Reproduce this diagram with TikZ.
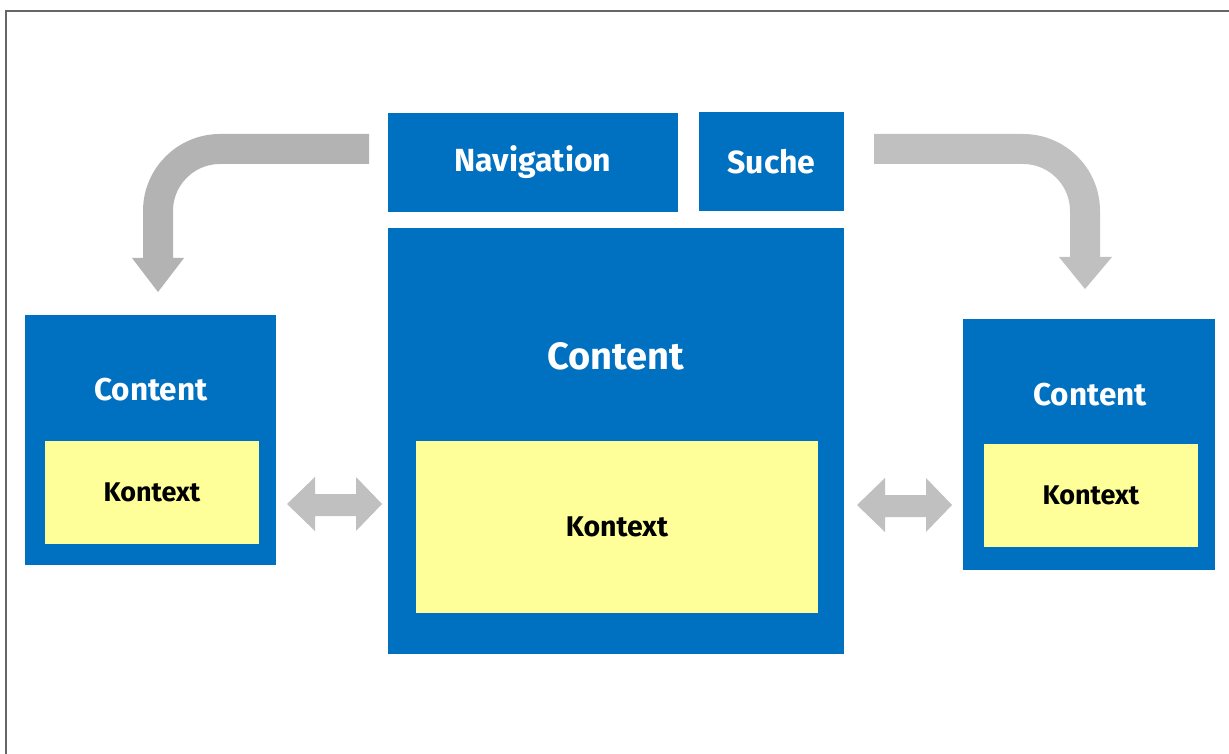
\documentclass[tikz,border=0pt]{standalone}
\usepackage{fontspec}
\setmainfont{Fira Sans}
\definecolor{mblue}{HTML}{0070C0}
\definecolor{myel}{HTML}{FFFF99}
\definecolor{garrL}{HTML}{B3B3B3}
\definecolor{garrR}{HTML}{C0C0C0}
\definecolor{framegray}{HTML}{666666}
\begin{document}
\begin{tikzpicture}[x=1pt,y=-1pt,
  bluebox/.style={fill=mblue,draw=none,inner sep=0pt,text=white,font=\bfseries},
  yelbox/.style={fill=myel,draw=none,inner sep=0pt,text=black,font=\bfseries},
  lbl/.style={inner sep=0pt,text=white,font=\bfseries},
  bendband/.style={line width=30pt,rounded corners=62pt},
]
\useasboundingbox (0,0) rectangle (1229,754);
\fill[white] (0,0) rectangle (1229,754);
\draw[framegray,line width=2pt] (6,760) -- (6,11) -- (1235,11);

% top boxes
\node[bluebox,minimum width=290pt,minimum height=99pt,font=\bfseries\fontsize{32}{36}\selectfont] (nav) at (533,162.5) {Navigation};
\node[bluebox,minimum width=145pt,minimum height=99pt,font=\bfseries\fontsize{32}{36}\selectfont] (suche) at (771.5,161.5) {Suche};

% main
\node[bluebox,minimum width=456pt,minimum height=426pt] (main) at (616,441) {};
\node[lbl,font=\bfseries\fontsize{38}{42}\selectfont] (mainc) at (616,356) {Content};
\node[yelbox,minimum width=402pt,minimum height=172pt,font=\bfseries\fontsize{28.5}{32}\selectfont] (maink) at (617,527) {Kontext};

% left
\node[bluebox,minimum width=251pt,minimum height=250pt] (left) at (150.5,440) {};
\node[lbl,font=\bfseries\fontsize{31.5}{36}\selectfont] (leftc) at (151,390) {Content};
\node[yelbox,minimum width=214pt,minimum height=103pt,font=\bfseries\fontsize{27}{30}\selectfont] (leftk) at (152,492.5) {Kontext};

% right
\node[bluebox,minimum width=252pt,minimum height=251pt] (right) at (1089,444.5) {};
\node[lbl,font=\bfseries\fontsize{31.5}{36}\selectfont] (rightc) at (1090,395) {Content};
\node[yelbox,minimum width=214pt,minimum height=103pt,font=\bfseries\fontsize{27}{30}\selectfont] (rightk) at (1091,495.5) {Kontext};

% curved arrows
\coordinate (la0) at (369,149);
\coordinate (la1) at (158,149);
\coordinate (la2) at (158,259);
\draw[garrL,bendband] (la0) -- (la1) -- (la2);
\fill[garrL] (132,258) -- (184,258) -- (158,292) -- cycle;

\coordinate (ra0) at (874,149);
\coordinate (ra1) at (1085,149);
\coordinate (ra2) at (1085,258);
\draw[garrR,bendband] (ra0) -- (ra1) -- (ra2);
\fill[garrR] (1059,257) -- (1112,257) -- (1085,289) -- cycle;

% double arrows
\fill[garrR] (287,504) -- (315,477) -- (315,494) -- (356,494) -- (356,477) -- (382,504)
  -- (356,531) -- (356,516) -- (315,516) -- (315,531) -- cycle;
\fill[garrR] (857,505) -- (885,478) -- (885,495) -- (926,495) -- (926,478) -- (952,505)
  -- (926,532) -- (926,517) -- (885,517) -- (885,532) -- cycle;
\end{tikzpicture}
\end{document}
